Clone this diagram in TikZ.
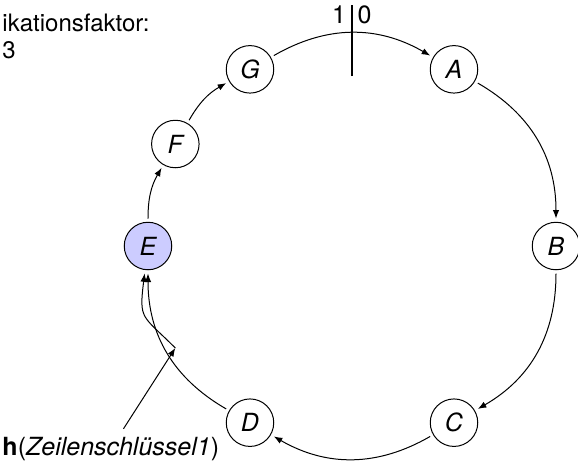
\documentclass[tikz,border=0pt]{standalone}
\usepackage{fontspec}
\setmainfont{TeX Gyre Heros}
\usetikzlibrary{arrows.meta}
\begin{document}
\begin{tikzpicture}[x=0.4pt, y=0.4pt, >={Latex[length=3.4pt,width=2.6pt]},
    font=\fontsize{10}{10.8}\selectfont,
    ringnode/.style={draw, circle, minimum size=19pt, inner sep=0pt, outer sep=1.5pt, font=\fontsize{10}{10.8}\selectfont\itshape}]
            \useasboundingbox (-352,-216) rectangle (226,246);

            % Replication factor (cut at the left edge)
            \node[anchor=north west, inner sep=0pt, align=left, font=\fontsize{9.6}{10.8}\selectfont] (repl) at (-350,233) {ikationsfaktor:\\3};

            % Nodes on the ring
            \node[ringnode] (A) at (60:204) {A};
            \node[ringnode] (B) at (0:204) {B};
            \node[ringnode] (C) at (-60:204) {C};
            \node[ringnode] (D) at (-120:204) {D};
            \node[ringnode, fill=blue!20] (E) at (180:204) {E};
            \node[ringnode] (F) at (150:204) {F};
            \node[ringnode] (G) at (120:204) {G};

            % Arcs between neighbours, clockwise
            \draw[->] (G) to[bend left=30] (A);
            \draw[->] (A) to[bend left=30] (B);
            \draw[->] (B) to[bend left=30] (C);
            \draw[->] (C) to[bend left=30] (D);
            \draw[->] (D) to[bend left=30] (E);
            \draw[->] (E) to[bend left=15] (F);
            \draw[->] (F) to[bend left=15] (G);

            % Zero point of the ring
            \draw[line width=1pt] (90:170) -- (90:241);
            \node (one) at (-13,231) {1};
            \node (zero) at (12.5,231) {0};

            % Key hashed onto the ring and handed to E
            \coordinate (hit) at (210:204);
            \node[anchor=base west, inner sep=3pt] (key) at (-357.5,-209) {\textbf{h}(\textit{Zeilenschlüssel1})};
            \draw[->] (key) -- (hit);
            \draw[->] (hit) to[out=135, in=-97, looseness=1.5] (E);
        \end{tikzpicture}
\end{document}
